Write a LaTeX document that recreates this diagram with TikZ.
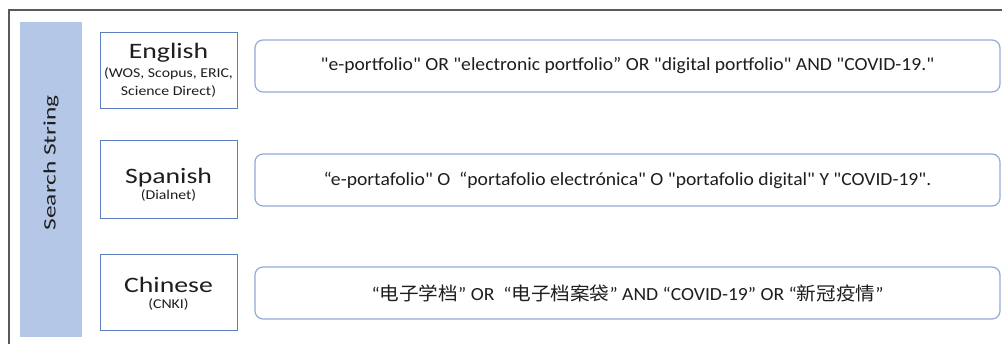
\documentclass[tikz,border=0pt]{standalone}
\usepackage{fontspec}
\setmainfont{Carlito}[Ligatures=TeXOff]
\newfontfamily\cjk{Noto Sans CJK SC}
\definecolor{barblue}{HTML}{B4C7E7}
\definecolor{lboxblue}{HTML}{5B7FC0}
\definecolor{rboxblue}{HTML}{93ACD6}
\definecolor{framegray}{HTML}{5A5A5A}
\definecolor{txt}{HTML}{1E1E1E}
\tikzset{
  frame/.style={draw=framegray, line width=1.2pt},
  lbox/.style={draw=lboxblue, line width=0.8pt, fill=white, minimum width=137pt, inner sep=0pt},
  rbox/.style={draw=rboxblue, line width=1.2pt, fill=white, rounded corners=8pt, minimum width=745pt, minimum height=52pt, text=txt, inner sep=0pt},
  lang/.style={anchor=base, text=txt, inner sep=0pt, font=\fontsize{22}{24}\selectfont},
  db/.style={anchor=base, text=txt, inner sep=0pt, font=\fontsize{13.5}{15}\selectfont},
  query/.style={font=\fontsize{18.5}{20}\selectfont},
}
\newcommand{\wl}[1]{\scalebox{1.26}[1]{#1}}
\newcommand{\ws}[1]{\scalebox{1.17}[1]{#1}}
\newcommand{\wq}[1]{\scalebox{1.06}[1]{#1}}
\begin{document}
\begin{tikzpicture}[x=1pt,y=-1pt]
\useasboundingbox (0,0) rectangle (1002,344);
\clip (0,0) rectangle (1002,344);
\fill[white] (0,0) rectangle (1002,344);
\draw[frame] (9,10) rectangle (1012,360);
\fill[barblue] (20,22) rectangle (82,337);
\node[rotate=90, text=txt, font=\fontsize{17.5}{20}\selectfont] (title) at (51,163) {\scalebox{1.45}[1]{Search String}};
% left boxes
\node[lbox, minimum height=76pt] (en) at (168.5,70) {};
\node[lbox, minimum height=78pt] (es) at (168.5,179) {};
\node[lbox, minimum height=76pt] (zh) at (168.5,292.5) {};
\node[lang] (en1) at (168.5,59) {\wl{English}};
\node[db] (en2) at (168.5,78) {\ws{(WOS, Scopus, ERIC,}};
\node[db] (en3) at (168.5,96) {\ws{Science Direct)}};
\node[lang] (es1) at (168.5,184) {\wl{Spanish}};
\node[db] (es2) at (168.5,200) {\ws{(Dialnet)}};
\node[lang] (zh1) at (168.5,293) {\wl{Chinese}};
\node[db] (zh2) at (168.5,309) {\ws{(CNKI)}};
% right boxes
\node[rbox, query] (enq) at (627.5,66) {\wq{"e-portfolio" OR "electronic portfolio” OR "digital portfolio" AND "COVID-19."}};
\node[rbox, query] (esq) at (627.5,180) {\wq{“e-portafolio" O\ \ “portafolio electrónica" O "portafolio digital" Y "COVID-19".}};
\node[rbox, query] (zhq) at (627.5,293) {\wq{“{\cjk 电子学档}” OR\ \ “{\cjk 电子档案袋}” AND “COVID-19” OR “{\cjk 新冠疫情}”}};
\end{tikzpicture}
\end{document}
